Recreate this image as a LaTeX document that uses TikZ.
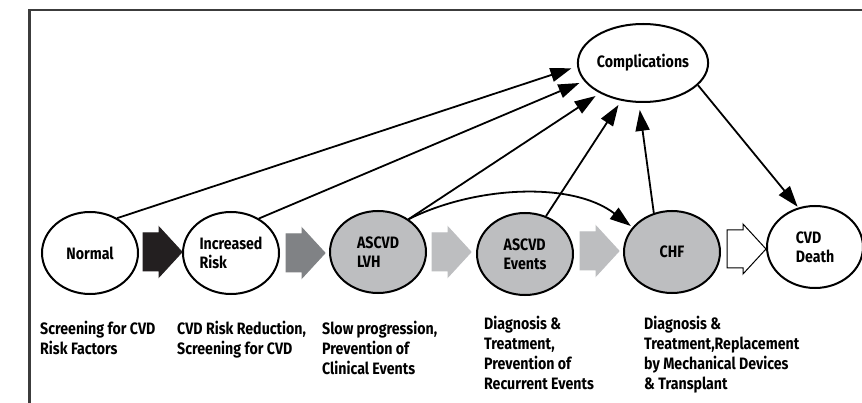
\documentclass[tikz,border=0pt]{standalone}
\usepackage{fontspec}
\setmainfont{Fira Sans}[FakeStretch=0.86]
\usetikzlibrary{arrows.meta,shapes.geometric}
\definecolor{fillgray}{HTML}{BDBEC0}
\definecolor{midgray}{HTML}{808285}
\definecolor{darkfill}{HTML}{231F20}
\definecolor{framegray}{HTML}{3C3C3C}
\tikzset{
  stage/.style={ellipse, draw=black, line width=2pt, minimum width=96pt, minimum height=82pt, inner sep=0pt, align=left, font=\fontsize{16.5}{19}\selectfont\bfseries},
  grayst/.style={stage, fill=fillgray},
  whitest/.style={stage, fill=white},
  lbl/.style={anchor=north west, inner sep=0pt, align=left, font=\fontsize{16.5}{20}\selectfont\bfseries},
  conn/.style={line width=1.8pt, -{Triangle[length=21pt,width=14pt]}},
}
\newcommand{\blockarr}[4]{% x, y-center, fill, draw
  \path[fill=#3, draw=#4, line width=1pt] (#1,#2-19) -- (#1+16,#2-19) -- (#1+16,#2-25) -- (#1+39,#2) -- (#1+16,#2+25) -- (#1+16,#2+19) -- (#1,#2+19) -- cycle;}
\begin{document}
\begin{tikzpicture}[x=1pt,y=-1pt]
\useasboundingbox (0,0) rectangle (862,403);
\fill[white] (0,0) rectangle (862,403);
% frame
\draw[framegray, line width=2.3pt] (29.5,404) -- (29.5,10) -- (863,10);
% stages
\node[whitest] (normal) at (90,253) {Normal};
\node[whitest] (inc) at (231,253) {Increased\\Risk};
\node[grayst] (lvh) at (378,252) {ASCVD\\LVH};
\node[grayst] (events) at (525,254) {ASCVD\\Events};
\node[grayst] (chf) at (672,252) {CHF};
\node[whitest] (death) at (815,247) {CVD\\Death};
\node[whitest, minimum width=124pt, minimum height=78pt] (comp) at (643,63) {Complications};
% block arrows
\blockarr{143}{252}{darkfill}{darkfill}
\blockarr{286}{253}{midgray}{midgray}
\blockarr{432}{252}{fillgray}{fillgray}
\blockarr{580}{251}{fillgray}{fillgray}
\blockarr{727}{249}{white}{black}
% connectors
\draw[conn, shorten >=6pt] (normal.52) -- (comp.183);
\draw[conn, shorten >=5pt] (inc.51) -- (comp.197);
\draw[conn, shorten >=5pt] (lvh.47) -- (comp.215);
\draw[conn, shorten >=2pt] (lvh.47) .. controls (475,186) and (572,181) .. (chf.148);
\draw[conn, shorten >=5pt] (events.61) -- (comp.240);
\draw[conn, shorten >=7pt] (chf.115) -- (comp.264);
\draw[conn, shorten >=1pt] (comp.-22) -- (death.113);
% labels
\node[lbl] (l1) at (40,321) {Screening for CVD\\Risk Factors};
\node[lbl] (l2) at (177,321) {CVD Risk Reduction,\\Screening for CVD};
\node[lbl] (l3) at (322,321) {Slow progression,\\Prevention of\\Clinical Events};
\node[lbl] (l4) at (484,316) {Diagnosis \&\\Treatment,\\Prevention of\\Recurrent Events};
\node[lbl] (l5) at (644,316) {Diagnosis \&\\Treatment,Replacement\\by Mechanical Devices\\\& Transplant};
\end{tikzpicture}
\end{document}
